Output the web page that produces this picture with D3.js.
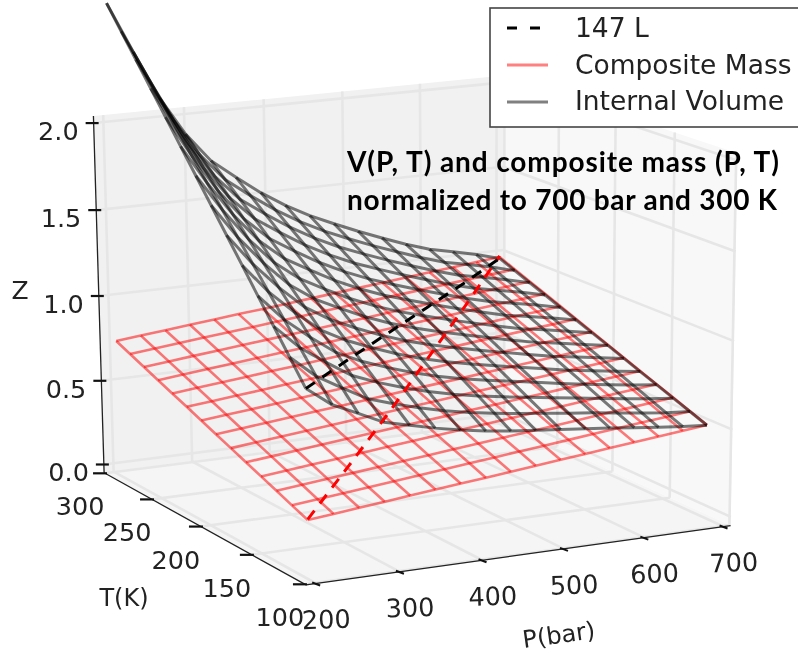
<!DOCTYPE html>
<html><head><meta charset="utf-8"><script src="https://cdn.jsdelivr.net/npm/d3@7"></script>
<style>html,body{margin:0;background:#fff}svg{display:block;filter:blur(0.6px)}</style></head><body>
<script>
const pressureTicks=[200,300,400,500,600,700];
const temperatureTicks=[100,150,200,250,300];
const zTicks=[0,0.5,1,1.5,2];
const gridPressure=[200,231.25,262.5,293.75,325,356.25,387.5,418.75,450,481.25,512.5,543.75,575,606.25,637.5,668.75,700];
const gridTempAtLowP=[106,120.5,134.9,149.4,163.8,178.3,192.8,207.2,221.7,236.2,250.6,265.1,279.5,294];
const gridTempAtHighP=[114,128.2,142.3,156.5,170.6,184.8,198.9,213.1,227.2,241.4,255.5,269.7,283.8,298];
const internalVolume=[
[1.005,0.897,0.830,0.761,0.725,0.689,0.658,0.633,0.613,0.597,0.581,0.566,0.550,0.532,0.514,0.498,0.486],
[1.135,1.013,0.929,0.849,0.802,0.760,0.724,0.694,0.670,0.649,0.631,0.612,0.594,0.573,0.554,0.536,0.523],
[1.264,1.128,1.029,0.937,0.880,0.832,0.790,0.755,0.726,0.702,0.680,0.658,0.637,0.615,0.594,0.575,0.559],
[1.393,1.244,1.128,1.025,0.957,0.904,0.856,0.816,0.783,0.755,0.730,0.705,0.680,0.656,0.634,0.614,0.596],
[1.523,1.359,1.228,1.112,1.035,0.976,0.922,0.877,0.840,0.808,0.779,0.751,0.724,0.697,0.675,0.653,0.632],
[1.652,1.475,1.327,1.200,1.113,1.047,0.988,0.938,0.896,0.861,0.828,0.797,0.767,0.738,0.715,0.692,0.669],
[1.782,1.590,1.427,1.288,1.190,1.119,1.054,0.999,0.953,0.914,0.878,0.844,0.810,0.779,0.755,0.730,0.706],
[1.911,1.706,1.526,1.376,1.268,1.191,1.120,1.060,1.009,0.967,0.927,0.890,0.854,0.820,0.795,0.769,0.742],
[2.040,1.821,1.626,1.463,1.345,1.263,1.186,1.121,1.066,1.020,0.977,0.936,0.897,0.861,0.835,0.808,0.779],
[2.170,1.937,1.725,1.551,1.423,1.334,1.252,1.182,1.123,1.073,1.026,0.983,0.940,0.903,0.875,0.847,0.815],
[2.299,2.052,1.825,1.639,1.501,1.406,1.318,1.243,1.179,1.126,1.076,1.029,0.984,0.944,0.915,0.886,0.852],
[2.429,2.168,1.924,1.727,1.578,1.478,1.384,1.304,1.236,1.179,1.125,1.075,1.027,0.985,0.955,0.924,0.888],
[2.558,2.283,2.024,1.814,1.656,1.549,1.450,1.365,1.293,1.232,1.175,1.122,1.071,1.026,0.995,0.963,0.925],
[2.687,2.399,2.123,1.902,1.733,1.621,1.516,1.426,1.349,1.285,1.224,1.168,1.114,1.067,1.035,1.002,0.962]];
const compositeMass=[
[0.281,0.294,0.307,0.320,0.333,0.346,0.359,0.371,0.384,0.397,0.410,0.423,0.436,0.449,0.462,0.474,0.487],
[0.317,0.330,0.343,0.356,0.369,0.382,0.395,0.408,0.421,0.434,0.447,0.460,0.473,0.486,0.499,0.511,0.524],
[0.353,0.366,0.379,0.392,0.405,0.418,0.431,0.444,0.457,0.470,0.483,0.496,0.509,0.523,0.536,0.549,0.562],
[0.389,0.402,0.415,0.428,0.441,0.455,0.468,0.481,0.494,0.507,0.520,0.533,0.546,0.559,0.573,0.586,0.599],
[0.425,0.438,0.451,0.465,0.478,0.491,0.504,0.517,0.530,0.544,0.557,0.570,0.583,0.596,0.610,0.623,0.636],
[0.461,0.474,0.487,0.501,0.514,0.527,0.540,0.554,0.567,0.580,0.594,0.607,0.620,0.633,0.647,0.660,0.673],
[0.497,0.510,0.523,0.537,0.550,0.563,0.577,0.590,0.604,0.617,0.630,0.644,0.657,0.670,0.684,0.697,0.710],
[0.533,0.546,0.559,0.573,0.586,0.600,0.613,0.627,0.640,0.653,0.667,0.680,0.694,0.707,0.721,0.734,0.747],
[0.569,0.582,0.596,0.609,0.623,0.636,0.650,0.663,0.677,0.690,0.704,0.717,0.731,0.744,0.758,0.771,0.785],
[0.604,0.618,0.632,0.645,0.659,0.672,0.686,0.700,0.713,0.727,0.740,0.754,0.767,0.781,0.795,0.808,0.822],
[0.640,0.654,0.668,0.681,0.695,0.709,0.722,0.736,0.750,0.763,0.777,0.791,0.804,0.818,0.832,0.845,0.859],
[0.676,0.690,0.704,0.717,0.731,0.745,0.759,0.772,0.786,0.800,0.814,0.827,0.841,0.855,0.869,0.882,0.896],
[0.712,0.726,0.740,0.754,0.767,0.781,0.795,0.809,0.823,0.837,0.850,0.864,0.878,0.892,0.906,0.919,0.933],
[0.748,0.762,0.776,0.790,0.804,0.818,0.831,0.845,0.859,0.873,0.887,0.901,0.915,0.929,0.943,0.957,0.970]];
const line147P=[200,300,400,500,600,700];
const line147T=[106,145,183,221,259,298];
const line147Volume=[1.005,0.996,0.988,0.979,0.970,0.962];
const line147Mass=[0.285,0.401,0.534,0.680,0.829,0.977];
const legendLabels=['147 L','Composite Mass','Internal Volume'];
const noteLines=['V(P, T) and composite mass (P, T)','normalized to 700 bar and 300 K'];

const W=798,H=654,P0=188,P1=709,T0=99,T1=301,Z0=-.05,Z1=2.04;
// Camera calibration: box points and where the reference's frame shows them.
const calib=[[200,100,-.05,313,583],[300,100,-.05,400,573],[400,100,-.05,483,560],[500,100,-.05,563,548],[600,100,-.05,645,537],[700,100,-.05,723,527],
[188,150,-.05,249,553],[188,200,-.05,203,527],[188,250,-.05,155,500],[188,300,-.05,109,475],[188,300,0,102,466.7],[188,300,.5,100.5,382.7],[188,300,1,99,297.3],[188,300,1.5,97,212],[188,300,2,95,124.7],
[300,300,2,185,113],[300,300,-.05,190,453],[400,300,2,266,106],[500,300,2,345,98],[600,300,2,420,90],[700,300,2,497,84],[700,300,-.05,497,424],
[709,100,.5,733,428],[709,100,1,733,340],[709,100,1.5,733,252],[709,100,-.05,729,525],[709,150,-.05,667,496],[709,200,-.05,610,472],[709,300,-.05,507,425]];
const sP=d3.scaleLinear().domain([P0,P1]).range([0,1]),sT=d3.scaleLinear().domain([T0,T1]).range([0,1]),sZ=d3.scaleLinear().domain([Z0,Z1]).range([0,1]);
function solve(A,b){const n=b.length;const M=A.map((r,i)=>[...r,b[i]]);for(let i=0;i<n;i++){let p=i;for(let k=i+1;k<n;k++)if(Math.abs(M[k][i])>Math.abs(M[p][i]))p=k;[M[i],M[p]]=[M[p],M[i]];for(let k=i+1;k<n;k++){const f=M[k][i]/M[i][i];for(let j=i;j<=n;j++)M[k][j]-=f*M[i][j];}}const x=Array(n).fill(0);for(let i=n-1;i>=0;i--){let s=M[i][n];for(let j=i+1;j<n;j++)s-=M[i][j]*x[j];x[i]=s/M[i][i];}return x;}
const rows=[],rhs=[];calib.forEach(([p,t,z,x,y])=>{const a=sP(p),c=sT(t),e=sZ(z);rows.push([a,c,e,1,0,0,0,0,-x*a,-x*c,-x*e]);rhs.push(x);rows.push([0,0,0,0,a,c,e,1,-y*a,-y*c,-y*e]);rhs.push(y);});
const AtA=d3.range(11).map(i=>d3.range(11).map(j=>d3.sum(rows,r=>r[i]*r[j]))),Atb=d3.range(11).map(i=>d3.sum(rows,(r,k)=>r[i]*rhs[k]));
const h=solve(AtA,Atb);
function proj(p,t,z){const a=sP(p),c=sT(t),e=sZ(z);const w=h[8]*a+h[9]*c+h[10]*e+1;return [(h[0]*a+h[1]*c+h[2]*e+h[3])/w,(h[4]*a+h[5]*c+h[6]*e+h[7])/w];}
const nodeT=(i,j)=>{const u=(gridPressure[i]-200)/500;return gridTempAtLowP[j]*(1-u)+gridTempAtHighP[j]*u;};

const svg=d3.select('body').append('svg').attr('width',W).attr('height',H).attr('viewBox',[0,0,W,H]);
const line=d3.line();
function poly(pts,fill){svg.append('path').attr('d',line(pts.map(a=>proj(...a)))+'Z').attr('fill',fill);}
poly([[P0,T1,Z0],[P1,T1,Z0],[P1,T1,Z1],[P0,T1,Z1]],'#f1f1f1');
poly([[P1,T0,Z0],[P1,T1,Z0],[P1,T1,Z1],[P1,T0,Z1]],'#f8f8f8');
poly([[P0,T0,Z0],[P1,T0,Z0],[P1,T1,Z0],[P0,T1,Z0]],'#f5f5f5');
function seg(a,b,c='#e6e6e6',w=2.6){svg.append('path').attr('d',line([proj(...a),proj(...b)])).attr('stroke',c).attr('stroke-width',w).attr('fill','none');}
pressureTicks.forEach(p=>{seg([p,T1,Z0],[p,T1,Z1]);seg([p,T0,Z0],[p,T1,Z0]);});
temperatureTicks.forEach(t=>{seg([P1,t,Z0],[P1,t,Z1]);seg([P0,t,Z0],[P1,t,Z0]);});
zTicks.forEach(z=>{seg([P0,T1,z],[P1,T1,z]);seg([P1,T0,z],[P1,T1,z]);});
seg([P0,T0,Z0],[P1,T0,Z0],'#222',1.3);seg([P0,T0,Z0],[P0,T1,Z0],'#222',1.3);seg([P0,T1,Z0],[P0,T1,Z1],'#222',1.3);
function mesh(tab,col,w){
 const g=svg.append('g').attr('fill','none').attr('stroke',col).attr('stroke-opacity',.52).attr('stroke-width',w);
 tab.forEach((r,j)=>g.append('path').attr('d',line(r.map((z,i)=>proj(gridPressure[i],nodeT(i,j),z)))));
 gridPressure.forEach((p,i)=>g.append('path').attr('d',line(tab.map((r,j)=>proj(p,nodeT(i,j),r[i])))));
}
mesh(compositeMass,'#ff0000',2.6);
mesh(internalVolume,'#000',3);
const dash=(z,c)=>svg.append('path').attr('d',line(z.map((v,k)=>proj(line147P[k],line147T[k],v)))).attr('fill','none').attr('stroke',c).attr('stroke-width',3).attr('stroke-dasharray','11 9');
dash(line147Mass,'#f00');dash(line147Volume,'#000');
const font='"DejaVu Sans"';
const txt=(x,y,s,o={})=>svg.append('text').attr('x',x).attr('y',y).text(s).attr('font-family',o.f||font).attr('font-size',o.s||25.5).attr('fill',o.c||'#222').attr('font-weight',o.b||'normal').attr('text-anchor',o.a||'middle').attr('transform',o.r?`rotate(${o.r} ${x} ${y})`:null);
zTicks.forEach(z=>{const [x,y]=proj(P0,T1,z);svg.append('line').attr('x1',x-8).attr('x2',x+5).attr('y1',y).attr('y2',y).attr('stroke','#111').attr('stroke-width',2.2);txt(x-15,y+17,d3.format('.1f')(z),{a:'end'});});
temperatureTicks.forEach(t=>{const [x,y]=proj(P0,t,Z0);svg.append('line').attr('x1',x-12).attr('x2',x+2).attr('y1',y).attr('y2',y).attr('stroke','#111').attr('stroke-width',2.2);txt(x-25,y+42,t);});
pressureTicks.forEach(p=>{const [x,y]=proj(p,T0,Z0);svg.append('line').attr('x1',x-4).attr('x2',x+4).attr('y1',y-1).attr('y2',y+2).attr('stroke','#111').attr('stroke-width',2);txt(x+10.5,y+45,p,{r:-2});});
txt(20,299,'Z',{s:25});txt(124,606,'T(K)',{s:24});txt(560,643,'P(bar)',{s:24,r:-8});
svg.append('rect').attr('x',490).attr('y',8).attr('width',330).attr('height',119).attr('fill','#fff').attr('stroke','#444').attr('stroke-width',1.6);
svg.append('line').attr('x1',507).attr('x2',540).attr('y1',28).attr('y2',28).attr('stroke','#000').attr('stroke-width',3).attr('stroke-dasharray','10 13');
svg.append('line').attr('x1',507).attr('x2',548).attr('y1',65).attr('y2',65).attr('stroke','#ff8080').attr('stroke-width',3);
svg.append('line').attr('x1',507).attr('x2',548).attr('y1',102).attr('y2',102).attr('stroke','#808080').attr('stroke-width',3);
legendLabels.forEach((l,k)=>txt(575,37+k*36.5,l,{s:26.5,a:'start'}));
noteLines.forEach((l,k)=>txt(347,172+k*38,l,{f:'Lato',s:28,b:700,c:'#000',a:'start'}).attr('textLength',k?430:432));
</script></body></html>
